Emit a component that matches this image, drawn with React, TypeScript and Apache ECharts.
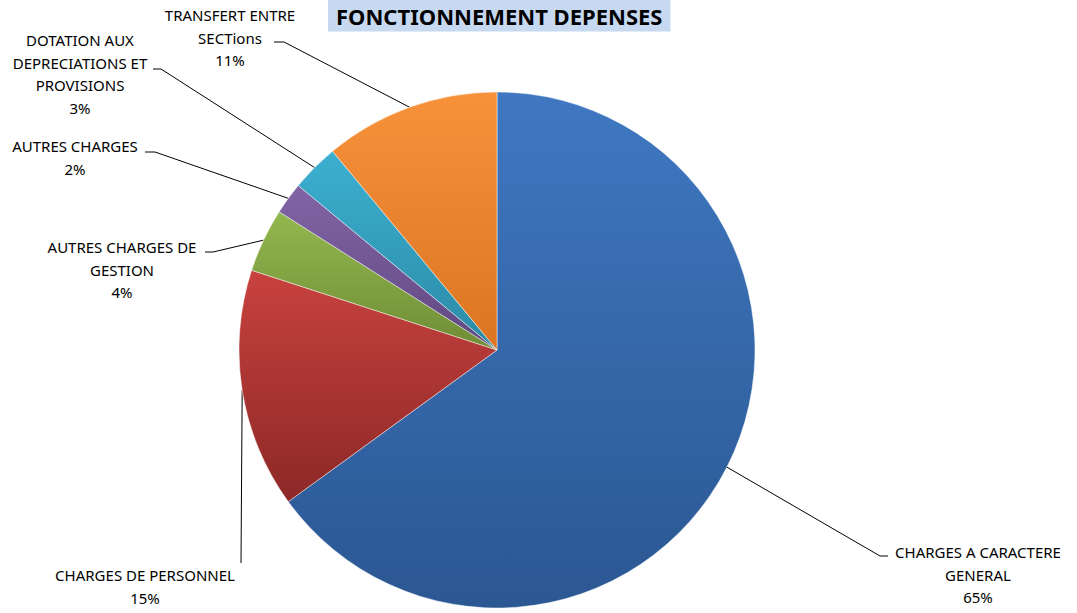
import React, { useEffect, useRef } from "react";
import * as echarts from "echarts";

const categories = [
  "CHARGES A CARACTERE\nGENERAL",
  "CHARGES DE PERSONNEL",
  "AUTRES CHARGES DE\nGESTION",
  "AUTRES CHARGES",
  "DOTATION AUX\nDEPRECIATIONS ET\nPROVISIONS",
  "TRANSFERT ENTRE\nSECTions",
];
const values = [65, 15, 4, 2, 3, 11];
const colorsTop = ["#3f78c1", "#c8423f", "#93b74f", "#8264a6", "#3cb0d0", "#f7913a"];
const colorsBottom = ["#2b5792", "#8c2826", "#6f8d35", "#5f4880", "#2b8aa6", "#dc7522"];

// label placement: [centerX, topY, lineEndX, lineEndY, bendX]
const labelPlaces: number[][] = [
  [978, 541, 888, 556, 880],
  [145, 564, 241, 563, 241],
  [122, 236, 205, 252, 213],
  [75, 135, 145, 152, 155],
  [80, 29, 153, 69, 161],
  [230, 4, 274, 42, 284],
];

const CX = 497;
const CY = 350;
const R = 258;

export default function App() {
  const ref = useRef<HTMLDivElement>(null);
  useEffect(() => {
    document.body.style.margin = "0";
    const chart = echarts.init(ref.current!, null, { renderer: "svg" });
    const total = values.reduce((a, b) => a + b, 0);
    const edgePoint = (i: number) => {
      let acc = 0;
      for (let k = 0; k < i; k++) acc += values[k];
      const mid = ((acc + values[i] / 2) / total) * Math.PI * 2;
      return [CX + R * Math.sin(mid), CY - R * Math.cos(mid)];
    };
    chart.setOption({
      animation: false,
      backgroundColor: "#ffffff",
      title: {
        text: "FONCTIONNEMENT DEPENSES",
        left: 328,
        top: 0,
        padding: [5, 8, 5, 8],
        backgroundColor: "#c6d9f1",
        textStyle: {
          fontFamily: "Noto Sans",
          fontWeight: "bold",
          fontSize: 22,
          color: "#000",
          lineHeight: 21,
        },
      },
      series: [
        {
          type: "pie",
          center: [CX, CY],
          radius: R,
          startAngle: 90,
          clockwise: true,
          avoidLabelOverlap: false,
          data: categories.map((name, i) => ({
            name,
            value: values[i],
            itemStyle: {
              color: new echarts.graphic.LinearGradient(0, 0, 0, 1, [
                { offset: 0, color: colorsTop[i] },
                { offset: 1, color: colorsBottom[i] },
              ]),
            },
          })),
          itemStyle: {
            borderColor: "rgba(255,255,255,0.45)",
            borderWidth: 1,
          },
          label: {
            show: true,
            position: "outside",
            formatter: (p: any) => `${p.name}\n${Math.round(p.percent)}%`,
            fontFamily: "Noto Sans",
            fontSize: 15,
            lineHeight: 22.5,
            color: "#000",
            align: "center",
          },
          labelLine: {
            show: true,
            length: 20,
            length2: 10,
            lineStyle: { color: "#000", width: 1 },
          },
          labelLayout: (params: any) => {
            const i = params.dataIndex;
            const pl = labelPlaces[i];
            const p0 =
              params.labelLinePoints && params.labelLinePoints[0]
                ? params.labelLinePoints[0]
                : edgePoint(i);
            return {
              x: pl[0],
              y: pl[1],
              align: "center",
              verticalAlign: "top",
              labelLinePoints: [
                [p0[0], p0[1]],
                [pl[4], pl[3]],
                [pl[2], pl[3]],
              ],
            };
          },
        },
      ],
    });
    return () => chart.dispose();
  }, []);
  return <div ref={ref} style={{ width: 1077, height: 613 }} />;
}
